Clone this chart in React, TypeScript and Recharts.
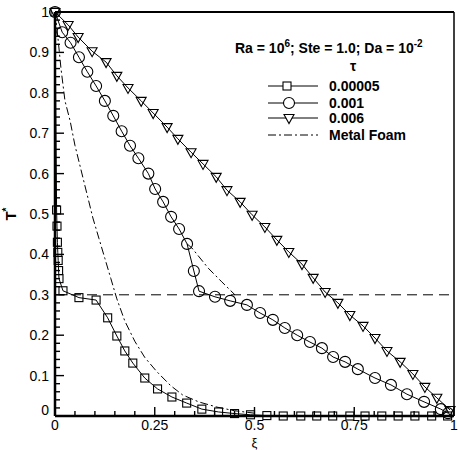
import React from "react";
import { LineChart, Line, XAxis, YAxis, ReferenceLine, Legend } from "recharts";

// tau = 0.00005 (squares)
const squareXi = [0, 0.004, 0.005, 0.006, 0.007, 0.008, 0.009, 0.01, 0.02, 0.06, 0.103, 0.132, 0.155, 0.175, 0.195, 0.225, 0.257, 0.293, 0.33, 0.368, 0.41, 0.45, 0.49, 0.531, 0.572, 0.616, 0.656, 0.696, 0.739, 0.777, 0.819, 0.86, 0.902, 0.944, 0.984];
const squareT = [1, 0.51, 0.47, 0.43, 0.405, 0.385, 0.36, 0.34, 0.31, 0.293, 0.287, 0.243, 0.198, 0.161, 0.131, 0.094, 0.067, 0.047, 0.032, 0.017, 0.01, 0.006, 0.003, 0.001, 0, 0, 0, 0, 0, 0, 0, 0, 0, 0, 0];

// tau = 0.001 (circles)
const circleXi = [0, 0.018, 0.039, 0.06, 0.081, 0.103, 0.125, 0.146, 0.167, 0.188, 0.209, 0.234, 0.251, 0.271, 0.291, 0.311, 0.331, 0.348, 0.361, 0.401, 0.439, 0.481, 0.514, 0.546, 0.576, 0.607, 0.639, 0.669, 0.697, 0.727, 0.759, 0.802, 0.842, 0.882, 0.925, 0.967, 0.985];
const circleT = [1, 0.95, 0.924, 0.888, 0.852, 0.817, 0.78, 0.743, 0.705, 0.669, 0.638, 0.6, 0.562, 0.53, 0.493, 0.463, 0.426, 0.359, 0.309, 0.295, 0.285, 0.275, 0.255, 0.238, 0.218, 0.2, 0.183, 0.168, 0.146, 0.134, 0.116, 0.094, 0.077, 0.054, 0.035, 0.017, 0.007];

// tau = 0.006 (triangles)
const triXi = [0, 0.033, 0.058, 0.093, 0.128, 0.155, 0.183, 0.216, 0.246, 0.281, 0.308, 0.341, 0.371, 0.404, 0.431, 0.464, 0.494, 0.526, 0.556, 0.586, 0.619, 0.647, 0.677, 0.709, 0.739, 0.772, 0.802, 0.832, 0.865, 0.897, 0.927, 0.957, 0.99];
const triT = [1, 0.968, 0.938, 0.903, 0.876, 0.842, 0.812, 0.78, 0.75, 0.715, 0.686, 0.653, 0.624, 0.592, 0.559, 0.53, 0.498, 0.468, 0.436, 0.406, 0.376, 0.342, 0.307, 0.28, 0.25, 0.223, 0.193, 0.161, 0.134, 0.104, 0.072, 0.045, 0.015];

// metal foam (dash-dot)
const foamXi = [0, 0.008, 0.015, 0.025, 0.038, 0.05, 0.065, 0.08, 0.095, 0.11, 0.125, 0.14, 0.155, 0.175, 0.2, 0.225, 0.255, 0.29, 0.32, 0.36, 0.406, 0.45, 0.5];
const foamT = [1, 0.93, 0.86, 0.78, 0.73, 0.67, 0.61, 0.55, 0.49, 0.44, 0.39, 0.34, 0.29, 0.235, 0.185, 0.145, 0.11, 0.075, 0.052, 0.035, 0.022, 0.013, 0.007];
const foam2Xi = [0.331, 0.343, 0.384, 0.418, 0.451];
const foam2T = [0.426, 0.416, 0.366, 0.332, 0.3];

const meltT = 0.3;

const xMajor = [0, 0.25, 0.5, 0.75, 1];
const xLabels = ["0", "0.25", "0.5", "0.75", "1"];
const xMinor = [0, 0.05, 0.1, 0.15, 0.2, 0.25, 0.3, 0.35, 0.4, 0.45, 0.5, 0.55, 0.6, 0.65, 0.7, 0.75, 0.8, 0.85, 0.9, 0.95, 1];
const yMajor = [0, 0.1, 0.2, 0.3, 0.4, 0.5, 0.6, 0.7, 0.8, 0.9, 1];
const yLabels = ["0", "0.1", "0.2", "0.3", "0.4", "0.5", "0.6", "0.7", "0.8", "0.9", "1"];
const yMinor = [0, 0.02, 0.04, 0.06, 0.08, 0.1, 0.12, 0.14, 0.16, 0.18, 0.2, 0.22, 0.24, 0.26, 0.28, 0.3, 0.32, 0.34, 0.36, 0.38, 0.4, 0.42, 0.44, 0.46, 0.48, 0.5, 0.52, 0.54, 0.56, 0.58, 0.6, 0.62, 0.64, 0.66, 0.68, 0.7, 0.72, 0.74, 0.76, 0.78, 0.8, 0.82, 0.84, 0.86, 0.88, 0.9, 0.92, 0.94, 0.96, 0.98, 1];

const toPoints = (xs: number[], ys: number[]) => xs.map((x, i) => ({ xi: x, t: ys[i] }));

const FONT = "'Liberation Sans', Arial, Helvetica, sans-serif";

const majorIndex = (list: number[], v: number) => list.findIndex((m) => Math.abs(m - v) < 1e-9);

// ticks point into the plot; majors are longer and get labels
const BottomTick = (props: any) => {
  const { x, y, payload } = props;
  const i = majorIndex(xMajor, payload.value);
  return (
    <g>
      <line x1={x} x2={x} y1={y} y2={y - (i >= 0 ? 9 : 5)} stroke="#000" strokeWidth={1.4} />
      {i >= 0 && (
        <text x={x} y={y + 14} textAnchor="middle" fontSize={14} fontFamily={FONT} fill="#000">
          {xLabels[i]}
        </text>
      )}
    </g>
  );
};

const TopTick = (props: any) => {
  const { x, y, payload } = props;
  const i = majorIndex(xMajor, payload.value);
  return <line x1={x} x2={x} y1={y} y2={y + (i >= 0 ? 9 : 5)} stroke="#000" strokeWidth={1.4} />;
};

const LeftTick = (props: any) => {
  const { x, y, payload } = props;
  const i = majorIndex(yMajor, payload.value);
  return (
    <g>
      <line x1={x} x2={x + (i >= 0 ? 9 : 5)} y1={y} y2={y} stroke="#000" strokeWidth={1.4} />
      {i >= 0 && (
        <text x={x - 6} y={y + 5 - (i === 0 ? 6 : 0)} textAnchor="end" fontSize={14} fontFamily={FONT} fill="#000">
          {yLabels[i]}
        </text>
      )}
    </g>
  );
};

const RightTick = (props: any) => {
  const { x, y, payload } = props;
  const i = majorIndex(yMajor, payload.value);
  return <line x1={x} x2={x - (i >= 0 ? 9 : 5)} y1={y} y2={y} stroke="#000" strokeWidth={1.4} />;
};

const squareDot = (p: any) => (
  <rect key={`sq-${p.index}`} x={p.cx - 4} y={p.cy - 4} width={8} height={8} fill="none" stroke="#000" strokeWidth={1.1} />
);
const circleDot = (p: any) => (
  <circle key={`ci-${p.index}`} cx={p.cx} cy={p.cy} r={5.5} fill="none" stroke="#000" strokeWidth={1.1} />
);
const triDot = (p: any) => (
  <path
    key={`tr-${p.index}`}
    d={`M${p.cx - 5},${p.cy - 3.5} L${p.cx + 5},${p.cy - 3.5} L${p.cx},${p.cy + 5.5} Z`}
    fill="none"
    stroke="#000"
    strokeWidth={1.1}
  />
);

const LegendBox = () => {
  const rows = [
    { label: "0.00005", y: 56, marker: "square" },
    { label: "0.001", y: 73, marker: "circle" },
    { label: "0.006", y: 88, marker: "tri" },
    { label: "Metal Foam", y: 105, marker: "foam" },
  ];
  return (
    <svg width={228} height={120} style={{ display: "block", overflow: "visible" }}>
      <text x={7} y={23} fontSize={14} fontWeight="bold" fontFamily={FONT} fill="#000">
        Ra = 10<tspan dy={-6} fontSize={10}>6</tspan>
        <tspan dy={6}>; Ste = 1.0; Da = 10</tspan>
        <tspan dy={-6} fontSize={10}>-2</tspan>
      </text>
      <text x={125} y={41} textAnchor="middle" fontSize={14} fontWeight="bold" fontFamily={FONT} fill="#000">
        τ
      </text>
      {rows.map((r) => (
        <g key={r.label}>
          <line
            x1={40}
            x2={90}
            y1={r.y}
            y2={r.y}
            stroke="#000"
            strokeWidth={1}
            strokeDasharray={r.marker === "foam" ? "8 3 2 3" : undefined}
          />
          {r.marker === "square" && <rect x={55} y={r.y - 4} width={8} height={8} fill="#fff" stroke="#000" strokeWidth={1.1} />}
          {r.marker === "circle" && <circle cx={61} cy={r.y} r={5.5} fill="#fff" stroke="#000" strokeWidth={1.1} />}
          {r.marker === "tri" && (
            <path d={`M56,${r.y - 3.5} L66,${r.y - 3.5} L61,${r.y + 5.5} Z`} fill="#fff" stroke="#000" strokeWidth={1.1} />
          )}
          <text x={101} y={r.y + 5} fontSize={14} fontWeight="bold" fontFamily={FONT} fill="#000">
            {r.label}
          </text>
        </g>
      ))}
    </svg>
  );
};

const App = () => {
  return (
    <div style={{ width: 458, height: 450, background: "#fff" }}>
      <style>{"body{margin:0;background:#fff}"}</style>
      <LineChart width={458} height={450} margin={{ top: 11, right: 3, bottom: 33, left: 54 }}>
        <XAxis
          xAxisId="b"
          dataKey="xi"
          type="number"
          domain={[0, 1]}
          ticks={xMinor}
          interval={0}
          height={1}
          tickSize={0}
          tickMargin={0}
          tickLine={false}
          tick={<BottomTick />}
          axisLine={{ stroke: "#000", strokeWidth: 2.5 }}
          label={{
            content: (p: any) => (
              <text x={p.viewBox.x + p.viewBox.width / 2} y={p.viewBox.y + 31} textAnchor="middle" fontSize={13} fontFamily={FONT} fill="#000">
                ξ
              </text>
            ),
          }}
        />
        <XAxis
          xAxisId="t"
          orientation="top"
          dataKey="xi"
          type="number"
          domain={[0, 1]}
          ticks={xMinor}
          interval={0}
          height={1}
          tickSize={0}
          tickMargin={0}
          tickLine={false}
          tick={<TopTick />}
          axisLine={{ stroke: "#000", strokeWidth: 2 }}
        />
        <YAxis
          yAxisId="l"
          type="number"
          domain={[0, 1]}
          ticks={yMinor}
          interval={0}
          width={1}
          tickSize={0}
          tickMargin={0}
          tickLine={false}
          tick={<LeftTick />}
          axisLine={{ stroke: "#000", strokeWidth: 2.5 }}
          label={{
            content: (p: any) => {
              const cx = 16;
              const cy = p.viewBox.y + p.viewBox.height / 2;
              return (
                <text x={cx} y={cy} transform={`rotate(-90, ${cx}, ${cy})`} textAnchor="middle" fontSize={15} fontWeight="bold" fontFamily={FONT} fill="#000">
                  T<tspan dy={-6} fontSize={10}>*</tspan>
                </text>
              );
            },
          }}
        />
        <YAxis
          yAxisId="r"
          orientation="right"
          type="number"
          domain={[0, 1]}
          ticks={yMinor}
          interval={0}
          width={1}
          tickSize={0}
          tickMargin={0}
          tickLine={false}
          tick={<RightTick />}
          axisLine={{ stroke: "#000", strokeWidth: 1.5 }}
        />
        <ReferenceLine xAxisId="b" yAxisId="l" y={meltT} stroke="#000" strokeWidth={1} strokeDasharray="10 6" />
        <Line xAxisId="b" yAxisId="l" data={toPoints(foamXi, foamT)} dataKey="t" type="linear" stroke="#000" strokeWidth={1} strokeDasharray="8 3 2 3" dot={false} isAnimationActive={false} />
        <Line xAxisId="b" yAxisId="l" data={toPoints(foam2Xi, foam2T)} dataKey="t" type="linear" stroke="#000" strokeWidth={1} strokeDasharray="8 3 2 3" dot={false} isAnimationActive={false} />
        <Line xAxisId="b" yAxisId="l" data={toPoints(squareXi, squareT)} dataKey="t" type="linear" stroke="#000" strokeWidth={1} dot={squareDot} isAnimationActive={false} />
        <Line xAxisId="b" yAxisId="l" data={toPoints(circleXi, circleT)} dataKey="t" type="linear" stroke="#000" strokeWidth={1} dot={circleDot} isAnimationActive={false} />
        <Line xAxisId="b" yAxisId="l" data={toPoints(triXi, triT)} dataKey="t" type="linear" stroke="#000" strokeWidth={1} dot={triDot} isAnimationActive={false} />
        <Legend
          layout="vertical"
          align="center"
          verticalAlign="middle"
          content={<LegendBox />}
          wrapperStyle={{ position: "absolute", left: 228, top: 30, width: 228, height: 120 }}
        />
      </LineChart>
    </div>
  );
};

export default App;
